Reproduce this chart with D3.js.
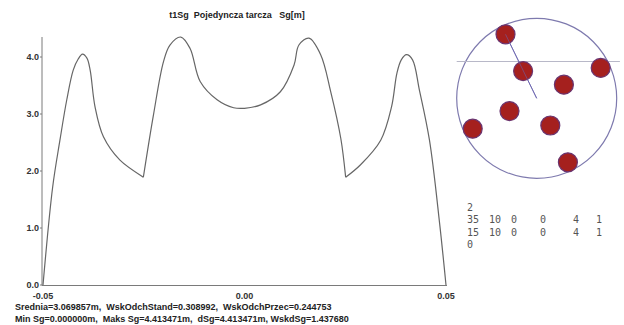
<!DOCTYPE html>
<html><head><meta charset="utf-8">
<script src="https://cdn.jsdelivr.net/npm/d3@7"></script>
<style>body{margin:0;background:#fff}svg{display:block}text{white-space:pre}</style>
</head><body>
<script>
// ---- data ----
const xPos = [-0.05,-0.0476,-0.0458,-0.0441,-0.0425,-0.0413,-0.0402,-0.0391,-0.0383,-0.0371,-0.0350,-0.0309,-0.0251,
  -0.0226,-0.0201,-0.0185,-0.0158,-0.0135,-0.0110,-0.0068,-0.0027,0.0,0.0040,0.0089,0.0123,0.0135,0.0160,0.0189,0.0214,0.0239,0.0251,
  0.0288,0.0338,0.0365,0.0378,0.0389,0.0402,0.0417,0.0434,0.0459,0.0484,0.05];
const sgVals = [0.0,1.72,2.54,3.25,3.77,3.96,4.05,3.98,3.77,3.13,2.60,2.19,1.89,
  2.98,3.92,4.21,4.35,4.15,3.57,3.25,3.11,3.10,3.16,3.39,3.86,4.21,4.33,4.04,3.39,2.57,1.89,
  2.11,2.54,3.13,3.71,3.95,4.04,3.95,3.42,2.54,1.09,0.0];
const cuspIdx = [12, 30];
const yTicks = [0,1,2,3,4];
const yTickLabels = ["0.0","1.0","2.0","3.0","4.0"];
const xTicks = [-0.05,0,0.05];
const xTickLabels = ["-0.05","0.00","0.05"];
const title = "t1Sg  Pojedyncza tarcza   Sg[m]";
const statLines = ["Srednia=3.069857m,  WskOdchStand=0.308992,  WskOdchPrzec=0.244753",
                   "Min Sg=0.000000m,  Maks Sg=4.413471m,  dSg=4.413471m, WskdSg=1.437680"];
const discX = [-0.39,-0.17,0.34,0.80,-0.34,-0.80,0.17,0.39];
const discY = [0.80,0.34,0.17,0.38,-0.16,-0.38,-0.34,-0.80];
const refLineY = 0.46;
const paramRows = [["2"],["35","10","0","0","4","1"],["15","10","0","0","4","1"],["0"]];

// ---- drawing ----
const W=624,H=325;
const svg=d3.select("body").append("svg").attr("width",W).attr("height",H);
const x=d3.scaleLinear().domain([-0.05,0.05]).range([43,446]);
const y=d3.scaleLinear().domain([0,4]).range([285,57]);
const axCol="#7a7a7a";
const font="Liberation Sans, Arial, sans-serif";

svg.append("text").attr("x",237).attr("y",18).attr("text-anchor","middle")
  .attr("font-family",font).attr("font-weight","bold").attr("font-size",9).attr("fill","#222").text(title);

// axes
svg.append("line").attr("x1",42).attr("x2",42).attr("y1",37).attr("y2",285.5).attr("stroke",axCol);
svg.append("line").attr("x1",42).attr("x2",447).attr("y1",285.5).attr("y2",285.5).attr("stroke",axCol);
yTicks.forEach((t,i)=>{
  svg.append("line").attr("x1",40).attr("x2",42).attr("y1",y(t)).attr("y2",y(t)).attr("stroke",axCol);
  svg.append("text").attr("x",39).attr("y",y(t)+3).attr("text-anchor","end")
    .attr("font-family",font).attr("font-weight","bold").attr("font-size",9).attr("fill","#333").text(yTickLabels[i]);
});
xTicks.forEach((t,i)=>{
  svg.append("text").attr("x",x(t)).attr("y",299).attr("text-anchor","middle")
    .attr("font-family",font).attr("font-weight","bold").attr("font-size",9).attr("fill","#333").text(xTickLabels[i]);
});

// curve, split at cusps
const pts=xPos.map((v,i)=>[v,sgVals[i]]);
const bounds=[0,...cuspIdx,pts.length-1];
const line=d3.line().x(d=>x(d[0])).y(d=>y(d[1])).curve(d3.curveCatmullRom.alpha(0.5));
for(let k=0;k<bounds.length-1;k++){
  svg.append("path").attr("d",line(pts.slice(bounds[k],bounds[k+1]+1)))
    .attr("fill","none").attr("stroke","#666").attr("stroke-width",1.2);
}

statLines.forEach((s,i)=>{
  svg.append("text").attr("x",15).attr("y",310+i*11.5)
    .attr("font-family",font).attr("font-weight","bold").attr("font-size",9).attr("fill","#222").text(s);
});

// disc diagram
const cx=536.7, cy=98.3, R=80;
const dx=d3.scaleLinear().domain([-1,1]).range([cx-R,cx+R]);
const dy=d3.scaleLinear().domain([-1,1]).range([cy+R,cy-R]);
svg.append("circle").attr("cx",cx).attr("cy",cy).attr("r",R).attr("fill","none").attr("stroke","#7e7aae").attr("stroke-width",1.2);
svg.append("line").attr("x1",dx(-1)).attr("x2",dx(1.04)).attr("y1",dy(refLineY)).attr("y2",dy(refLineY))
  .attr("stroke","#b8b8c8").attr("stroke-width",1);
svg.append("line").attr("x1",dx(discX[0])).attr("y1",dy(discY[0])).attr("x2",dx(0)).attr("y2",dy(0))
  .attr("stroke","#6c66b0").attr("stroke-width",1);
discX.forEach((v,i)=>{
  svg.append("circle").attr("cx",dx(v)).attr("cy",dy(discY[i])).attr("r",9.5)
    .attr("fill","#a5201e").attr("stroke","#6a3470").attr("stroke-width",1.2);
});
// redraw line over first two discs
svg.append("line").attr("x1",dx(discX[0])).attr("y1",dy(discY[0])).attr("x2",dx(0)).attr("y2",dy(0))
  .attr("stroke","#6c66b0").attr("stroke-width",0.8).attr("opacity",0.7);

// parameter text
const colX=[467,489,511,540,573,596];
paramRows.forEach((row,r)=>{
  row.forEach((s,c)=>{
    svg.append("text").attr("x",colX[c]).attr("y",211+r*12.3)
      .attr("font-family","DejaVu Sans Mono, monospace").attr("font-size",10).attr("fill","#555").text(s);
  });
});
</script>
</body></html>
